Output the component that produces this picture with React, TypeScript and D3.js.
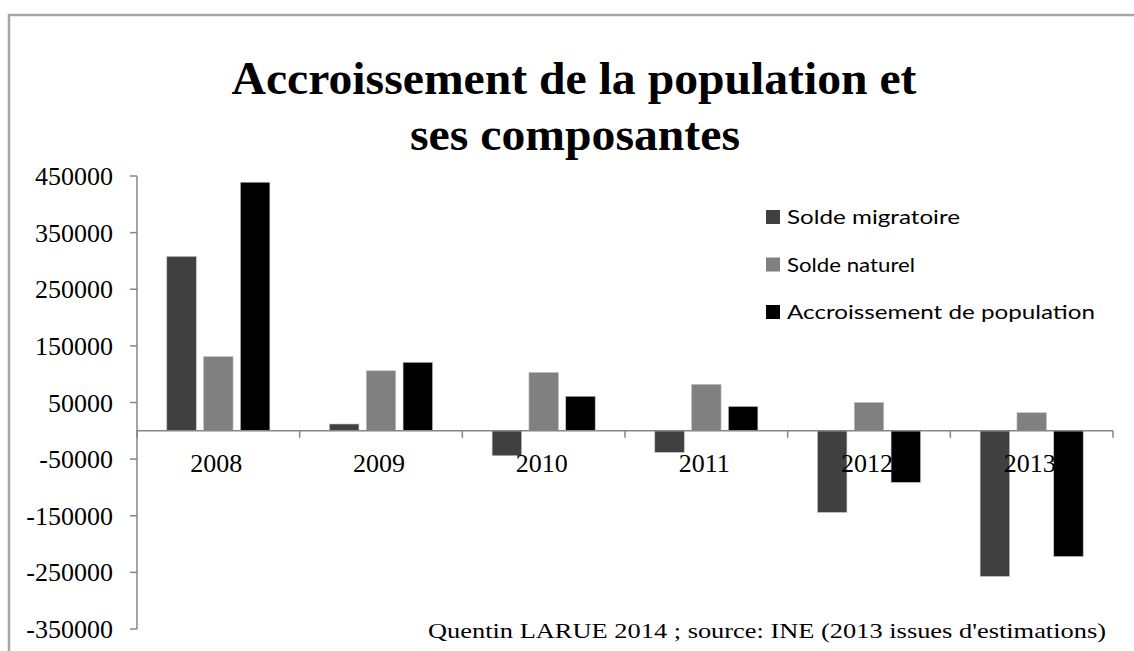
import React from 'react';
import * as d3 from 'd3';

// données
const years = ['2008', '2009', '2010', '2011', '2012', '2013'];
const seriesNames = ['Solde migratoire', 'Solde naturel', 'Accroissement de population'];
const soldeMigratoire = [308000, 12000, -44000, -38000, -144000, -257000];
const soldeNaturel = [131000, 106000, 103000, 82000, 50000, 32000];
const accroissement = [439000, 121000, 61000, 43000, -91000, -222000];
const yTicks = [450000, 350000, 250000, 150000, 50000, -50000, -150000, -250000, -350000];
const colors = ['#404040', '#808080', '#000000'];

const W = 1134;
const H = 651;
const plot = { left: 137, right: 1113, top: 176, bottom: 629 };

export default function App() {
  const values = [soldeMigratoire, soldeNaturel, accroissement];

  const y = d3.scaleLinear().domain([-350000, 450000]).range([plot.bottom, plot.top]);
  const x0 = d3.scaleBand<string>().domain(years).range([plot.left, plot.right]);
  const x1 = d3.scaleBand<string>()
    .domain(seriesNames)
    .range([0, x0.bandwidth()])
    .paddingInner(0.2)
    .paddingOuter(0.81);

  const zero = y(0);
  const boundaries = years.map(yr => x0(yr)!).concat([plot.right]);

  return (
    <svg width={W} height={H} style={{ position: 'absolute', left: 0, top: 0 }}>
      <rect width={W} height={H} fill="#fff" />
      {/* cadre */}
      <path d={`M9,${H + 5}V15H${W + 5}`} fill="none" stroke="#a6a6a6" strokeWidth={2.5} />

      {/* titre */}
      <g fontFamily="'Liberation Serif', 'Times New Roman', serif" fontWeight="bold" fill="#000">
        <text x={574} y={94} fontSize={46} textAnchor="middle" textLength={685} lengthAdjust="spacingAndGlyphs">
          Accroissement de la population et
        </text>
        <text x={575} y={150} fontSize={46} textAnchor="middle" textLength={330} lengthAdjust="spacingAndGlyphs">
          ses composantes
        </text>
      </g>

      {/* axe des ordonnées */}
      <g stroke="#868686" strokeWidth={1.5}>
        <line x1={plot.left} x2={plot.left} y1={plot.top} y2={plot.bottom} />
        {yTicks.map(t => (
          <line key={t} x1={plot.left - 7} x2={plot.left} y1={y(t)} y2={y(t)} />
        ))}
      </g>
      <g fontFamily="'Liberation Serif', 'Times New Roman', serif" fontSize={26} fill="#000" textAnchor="end">
        {yTicks.map(t => (
          <text key={t} x={113} y={y(t) + 9}>{t}</text>
        ))}
      </g>

      {/* barres */}
      {years.map((yr, i) => (
        <g key={yr} transform={`translate(${x0(yr)},0)`}>
          {seriesNames.map((s, j) => {
            const v = values[j][i];
            return (
              <rect
                key={s}
                x={x1(s)}
                y={Math.min(y(v), zero)}
                width={x1.bandwidth()}
                height={Math.abs(y(v) - zero)}
                fill={colors[j]}
                stroke="#bfbfbf"
                strokeWidth={0.6}
              />
            );
          })}
        </g>
      ))}

      {/* axe des abscisses */}
      <g stroke="#868686" strokeWidth={1.5}>
        <line x1={plot.left} x2={plot.right} y1={zero} y2={zero} />
        {boundaries.map((b, i) => (
          <line key={i} x1={b} x2={b} y1={zero} y2={zero + 7} />
        ))}
      </g>
      <g fontFamily="'Liberation Serif', 'Times New Roman', serif" fontSize={26} fill="#000" textAnchor="middle">
        {years.map(yr => (
          <text key={yr} x={x0(yr)! + x0.bandwidth() / 2 - 2} y={472}>{yr}</text>
        ))}
      </g>

      {/* légende */}
      <g fontFamily="Lato, 'Open Sans', sans-serif" fontSize={20} fill="#000">
        {seriesNames.map((s, j) => (
          <g key={s} transform={`translate(766,${217 + j * 47.5})`}>
            <rect x={0} y={-7} width={14} height={14} fill={colors[j]} />
            <text x={21} y={7} textLength={[173, 128, 308][j]} lengthAdjust="spacingAndGlyphs">{s}</text>
          </g>
        ))}
      </g>

      {/* source */}
      <text
        x={428}
        y={638}
        fontFamily="'Liberation Serif', 'Times New Roman', serif"
        fontSize={22}
        fill="#000"
        textLength={678}
        lengthAdjust="spacingAndGlyphs"
      >
        Quentin LARUE 2014 ; source: INE (2013 issues d'estimations)
      </text>
    </svg>
  );
}
